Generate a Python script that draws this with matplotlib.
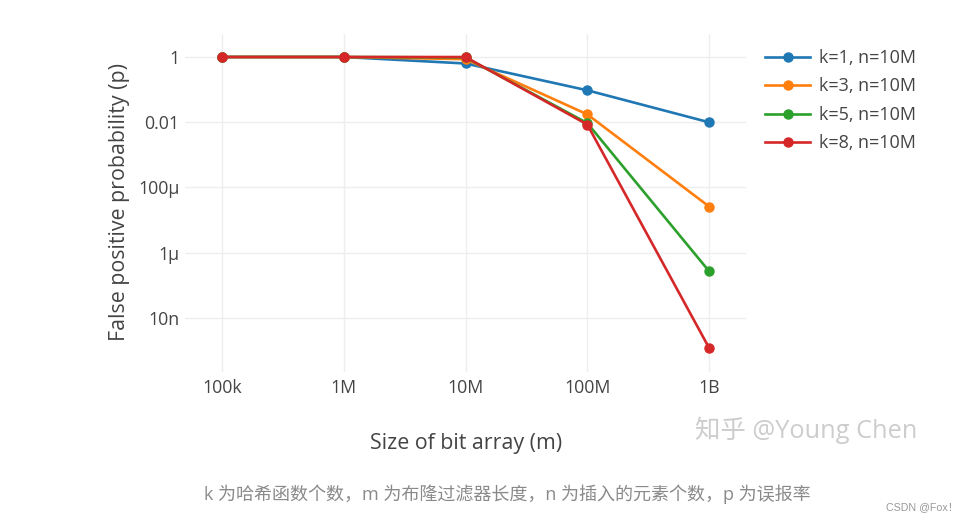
import matplotlib
matplotlib.use('Agg')
import matplotlib.pyplot as plt

# bit array sizes and false positive rates
sizes = [1e5, 1e6, 1e7, 1e8, 1e9]
size_labels = ['100k', '1M', '10M', '100M', '1B']
p_k1 = [1.0, 1.0, 0.632, 0.0952, 0.00995]
p_k3 = [1.0, 1.0, 0.857, 0.0174, 2.6e-5]
p_k5 = [1.0, 1.0, 0.967, 0.0094, 2.7e-7]
p_k8 = [1.0, 1.0, 0.997, 0.0085, 1.2e-9]
series_names = ['k=1, n=10M', 'k=3, n=10M', 'k=5, n=10M', 'k=8, n=10M']
y_ticks = [1, 1e-2, 1e-4, 1e-6, 1e-8]
y_labels = ['1', '0.01', '100\u00b5', '1\u00b5', '10n']

colors = ['#1f77b4', '#ff7f0e', '#2ca02c', '#d62728']
txt = '#444444'

plt.rcParams['font.family'] = ['Open Sans', 'Noto Sans CJK SC', 'DejaVu Sans']

fig = plt.figure(figsize=(9.72, 5.2), dpi=100)
ax = fig.add_axes([185 / 972, 1 - 372 / 520, 561 / 972, 338 / 520])

for vals, name, c in zip([p_k1, p_k3, p_k5, p_k8], series_names, colors):
    ax.plot(sizes, vals, '-o', color=c, lw=1.9, ms=6.5, label=name)

ax.set_xscale('log')
ax.set_yscale('log')
ax.set_xlim(10 ** (5 - 37 / 122), 10 ** (9 + 37 / 122))
ax.set_ylim(10 ** (-9.66), 10 ** 0.705)

ax.set_xticks(sizes)
ax.set_xticklabels(size_labels)
ax.set_yticks(y_ticks)
ax.set_yticklabels(y_labels)
ax.minorticks_off()
ax.tick_params(length=0, labelsize=12.8, colors=txt)
ax.tick_params(axis='x', pad=5)
ax.tick_params(axis='y', pad=4)
ax.grid(color='#eeeeee', lw=1)
ax.set_axisbelow(True)
for s in ax.spines.values():
    s.set_visible(False)

fig.text(466 / 972, 1 - 443 / 520, 'Size of bit array (m)', ha='center', va='center',
         fontsize=15.4, color=txt)
fig.text(120 / 972, 1 - 202 / 520, 'False positive probability (p)', ha='center', va='center',
         rotation=90, fontsize=15.4, color=txt)

leg = ax.legend(loc='upper left', bbox_to_anchor=(765 / 972, 1 - 49 / 520),
                bbox_transform=fig.transFigure, frameon=False, fontsize=13,
                handlelength=2.5, handletextpad=0.5, labelspacing=0.58,
                borderpad=0, borderaxespad=0)
for t in leg.get_texts():
    t.set_color(txt)

# watermark and caption
fig.text(806 / 972, 1 - 430 / 520, '知乎 @Young Chen', ha='center', va='center',
         fontsize=18.3, color='#cdcdcd')
fig.text(507 / 972, 1 - 494 / 520,
         'k 为哈希函数个数，m 为布隆过滤器长度，n 为插入的元素个数，p 为误报率',
         ha='center', va='center', fontsize=13, color='#8a8a8a')
fig.text(958 / 972, 1 - 507 / 520, 'CSDN @Fox！', ha='right', va='center',
         fontsize=7.7, color='#999999', family=['Liberation Sans', 'Noto Sans CJK SC'])

fig.savefig('out.png', dpi=100)
